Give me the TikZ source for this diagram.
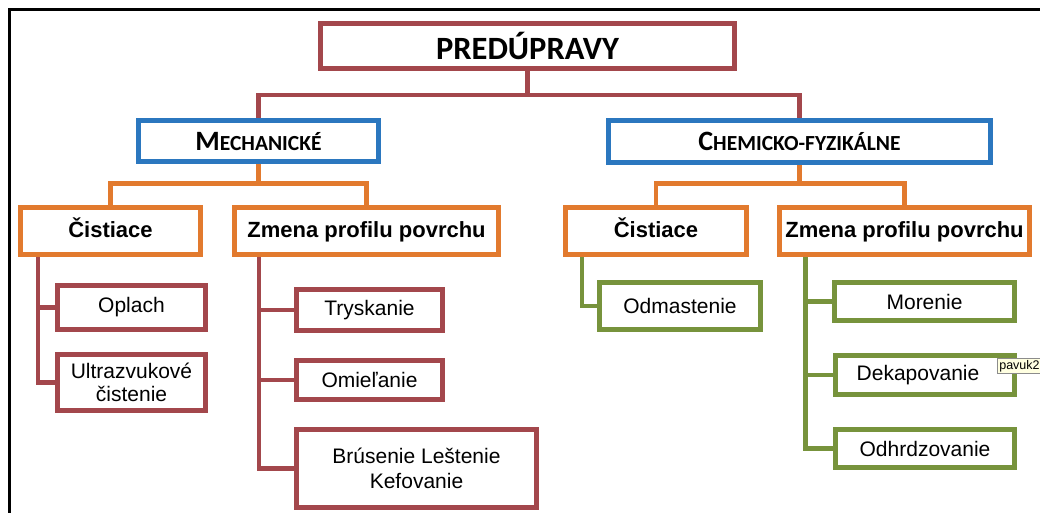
\documentclass[tikz,border=0pt]{standalone}
\usepackage{fontspec}
\setmainfont{Liberation Sans}
\newfontfamily\calib{Carlito}
\usetikzlibrary{backgrounds}
\definecolor{cRed}{HTML}{A3474C}
\definecolor{cBlue}{HTML}{2B77BF}
\definecolor{cOrange}{HTML}{E27A2E}
\definecolor{cGreen}{HTML}{77933C}
\definecolor{tipFill}{HTML}{FFFFE1}
\tikzset{
  box/.style={draw=#1, line width=4.3pt, fill=white, inner sep=2pt, align=center, text=black},
  link/.style={draw=#1, line width=4.5pt},
  leaf/.style={font=\fontsize{21}{25}\selectfont},
  head/.style={font=\fontsize{22}{25}\selectfont\bfseries, text height=16pt, text depth=4pt},
}
\newcommand{\fsc}[2]{{\fontsize{28}{30}\selectfont #1}{\fontsize{21.5}{30}\selectfont #2}}
\begin{document}
\begin{tikzpicture}[x=1pt,y=-1pt]
\useasboundingbox (0,0) rectangle (1040,513);
% frame
\draw[line width=3pt, black] (9.5,513) -- (9.5,9.5) -- (1040,9.5);
% nodes
\node[box=cRed, minimum width=414pt, minimum height=45pt, font=\calib\bfseries\fontsize{32.5}{36}\selectfont] (pre) at (527.5,46) {PREDÚPRAVY};
\node[box=cBlue, minimum width=240pt, minimum height=41pt, font=\calib\bfseries] (mech) at (258.5,141) {\fsc{M}{ECHANICKÉ}};
\node[box=cBlue, minimum width=382pt, minimum height=42pt, font=\calib\bfseries] (chem) at (799.5,141.5) {\fsc{C}{HEMICKO-FYZIKÁLNE}};
\node[box=cOrange, head, minimum width=180pt, minimum height=47pt] (cL) at (110.5,231) {Čistiace};
\node[box=cOrange, head, minimum width=264pt, minimum height=47pt] (zL) at (366.5,231) {Zmena profilu povrchu};
\node[box=cOrange, head, minimum width=181pt, minimum height=47pt] (cR) at (656,231) {Čistiace};
\node[box=cOrange, head, minimum width=250pt, minimum height=47pt, inner sep=0pt] (zR) at (904.5,231) {Zmena profilu povrchu};
\node[box=cRed, leaf, minimum width=148pt, minimum height=44pt] (oplach) at (131.5,307.5) {Oplach};
\node[box=cRed, leaf, minimum width=148pt, minimum height=56pt, font=\fontsize{21}{23}\selectfont] (ultra) at (131.5,382.5) {Ultrazvukové\\čistenie};
\node[box=cRed, leaf, minimum width=146pt, minimum height=41pt] (trysk) at (369.5,310) {Tryskanie};
\node[box=cRed, leaf, minimum width=146pt, minimum height=39pt] (omiel) at (369.5,380) {Omieľanie};
\node[box=cRed, leaf, minimum width=240pt, minimum height=78pt, font=\fontsize{21}{25}\selectfont] (brus) at (416.5,468.5) {Brúsenie Leštenie\\Kefovanie};
\node[box=cGreen, leaf, minimum width=161pt, minimum height=47pt] (odmast) at (680,306) {Odmastenie};
\node[box=cGreen, leaf, minimum width=180pt, minimum height=38pt] (moren) at (924.5,301.5) {Morenie};
\node[box=cGreen, leaf, minimum width=179pt, minimum height=39pt] (dekap) at (925,375) {Dekapovanie\hspace*{14pt}};
\node[box=cGreen, leaf, minimum width=179pt, minimum height=38pt] (odhrd) at (925,448.5) {Odhrdzovanie};
% tooltip
\node[draw=black!45, line width=0.6pt, fill=tipFill, inner xsep=2pt, inner ysep=1.5pt, anchor=west, font=\fontsize{12.5}{14}\selectfont] (tip) at (997,366) {pavuk2};
% trunk coordinates
\coordinate (cLtrunk) at (38,257);
\coordinate (zLtrunk) at (259,257);
\coordinate (cRtrunk) at (582,257);
\coordinate (zRtrunk) at (805.5,257);
\begin{scope}[on background layer]
\draw[link=cRed] (pre.south) -- ++(0,24.5) -| (mech.north);
\draw[link=cRed] (pre.south) -- ++(0,24.5) -| (chem.north);
\draw[link=cOrange] (mech.south) -- ++(0,20) -| (cL.north);
\draw[link=cOrange] (mech.south) -- ++(0,20) -| (zL.north);
\draw[link=cOrange] (chem.south) -- ++(0,19) -| (cR.north);
\draw[link=cOrange] (chem.south) -- ++(0,19) -| (zR.north);
\draw[link=cRed] (cLtrunk) |- (oplach.west);
\draw[link=cRed] (cLtrunk) |- (ultra.west);
\draw[link=cRed] (zLtrunk) |- (trysk.west);
\draw[link=cRed] (zLtrunk) |- (omiel.west);
\draw[link=cRed] (zLtrunk) |- (brus.west);
\draw[link=cGreen] (cRtrunk) |- (odmast.west);
\draw[link=cGreen] (zRtrunk) |- (moren.west);
\draw[link=cGreen] (zRtrunk) |- (dekap.west);
\draw[link=cGreen] (zRtrunk) |- (odhrd.west);
\end{scope}
\end{tikzpicture}
\end{document}
